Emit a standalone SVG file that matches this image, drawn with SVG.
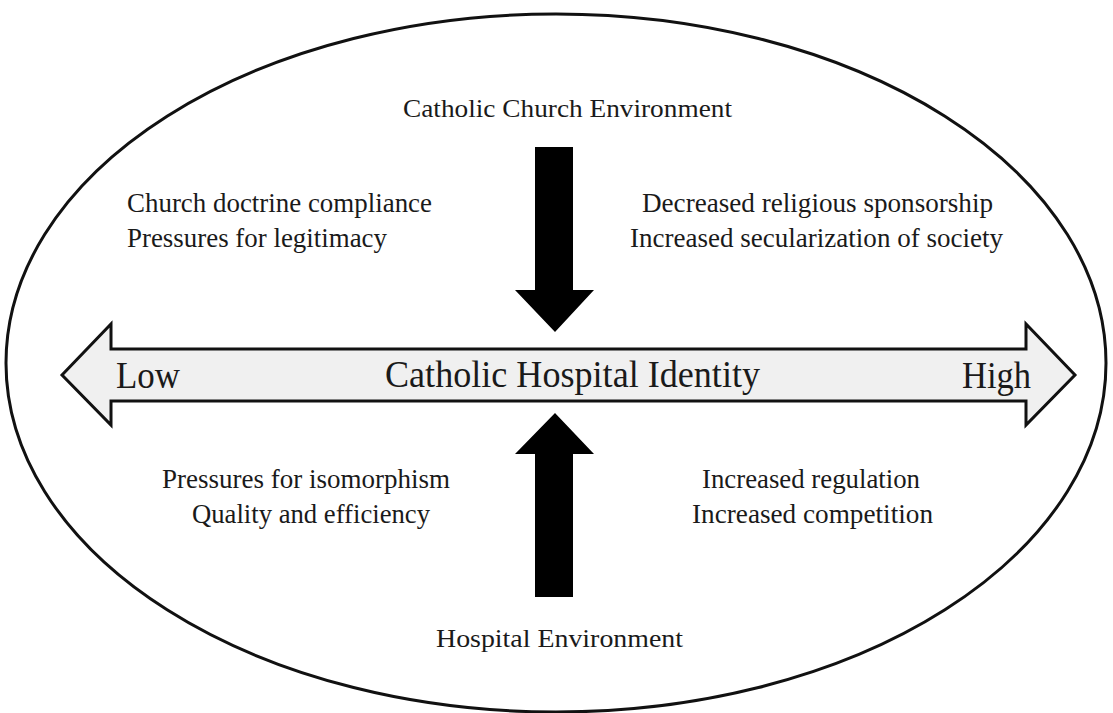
<svg xmlns="http://www.w3.org/2000/svg" width="1113" height="713" viewBox="0 0 1113 713">
<style>
.t{font-family:"Liberation Serif","Times New Roman",serif;fill:#1a1a1a}
.s{font-size:27px}
.e{font-size:26px}
.b{font-size:37px}
.blk{fill:#000;stroke:none}
</style>
<rect width="1113" height="713" fill="#fff"/>
<g id="frame">
<ellipse cx="556" cy="363" rx="550" ry="349" fill="none" stroke="#111" stroke-width="3"/>
</g>
<g id="connectors">
<path d="M62,375 L111,324 L111,349 L1026,349 L1026,324 L1075,375 L1026,425 L1026,401 L111,401 L111,425 Z" fill="#f0f0f0" stroke="#111" stroke-width="3" stroke-linejoin="miter"/>
<path class="blk" d="M535,147 L573,147 L573,290 L594,290 L555,332 L515,290 L535,290 Z"/>
<path class="blk" d="M535,597 L573,597 L573,454 L594,454 L555,413 L515,454 L535,454 Z"/>
</g>
<g id="church-env"><text class="t e" x="403" y="117" textLength="329" lengthAdjust="spacingAndGlyphs">Catholic Church Environment</text></g>
<g id="church-left">
<text class="t s" x="127" y="212" textLength="305" lengthAdjust="spacingAndGlyphs">Church doctrine compliance</text>
<text class="t s" x="127" y="247" textLength="260" lengthAdjust="spacingAndGlyphs">Pressures for legitimacy</text>
</g>
<g id="church-right">
<text class="t s" x="642" y="212" textLength="351" lengthAdjust="spacingAndGlyphs">Decreased religious  sponsorship</text>
<text class="t s" x="630" y="247" textLength="373" lengthAdjust="spacingAndGlyphs">Increased secularization of society</text>
</g>
<g id="identity">
<text class="t b" x="116" y="388" textLength="64" lengthAdjust="spacingAndGlyphs">Low</text>
<text class="t b" x="385" y="387" textLength="375" lengthAdjust="spacingAndGlyphs">Catholic Hospital Identity</text>
<text class="t b" x="962" y="388" textLength="69" lengthAdjust="spacingAndGlyphs">High</text>
</g>
<g id="hospital-left">
<text class="t s" x="162" y="488" textLength="288" lengthAdjust="spacingAndGlyphs">Pressures for isomorphism</text>
<text class="t s" x="192" y="523" textLength="238" lengthAdjust="spacingAndGlyphs">Quality and efficiency</text>
</g>
<g id="hospital-right">
<text class="t s" x="702" y="488" textLength="218" lengthAdjust="spacingAndGlyphs">Increased regulation</text>
<text class="t s" x="692" y="523" textLength="241" lengthAdjust="spacingAndGlyphs">Increased competition</text>
</g>
<g id="hospital-env"><text class="t e" x="436" y="647" textLength="247" lengthAdjust="spacingAndGlyphs">Hospital Environment</text></g>
</svg>
